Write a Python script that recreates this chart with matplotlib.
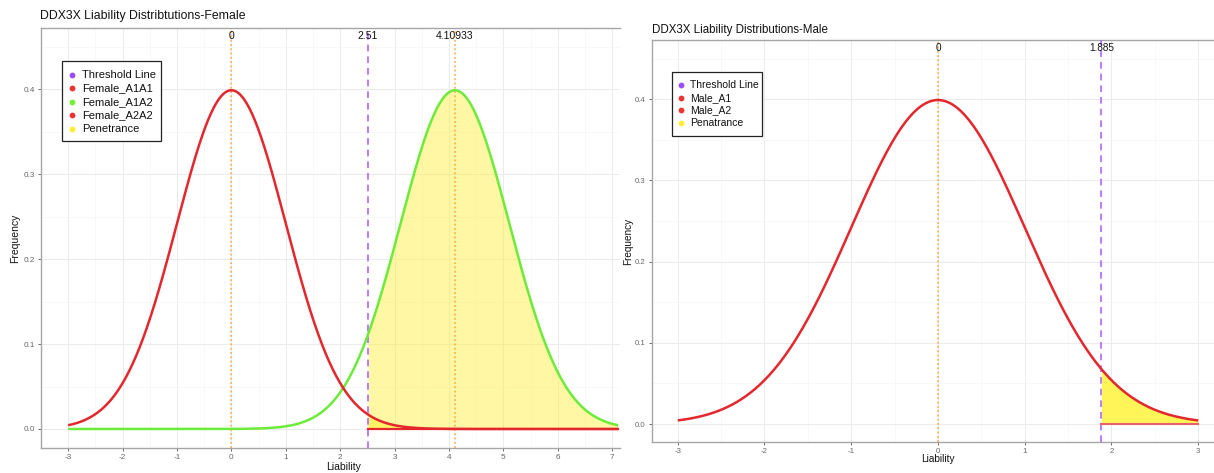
import numpy as np
import matplotlib
matplotlib.use("Agg")
import matplotlib.pyplot as plt
from matplotlib.patches import Rectangle
from matplotlib.ticker import MultipleLocator, FormatStrFormatter

plt.rcParams['font.family'] = ['Liberation Sans', 'DejaVu Sans']

# ---- Female liability model ----
female_means = [0.0, 4.10933]          # Female_A1A1, Female_A1A2
female_sd = 1.0
female_threshold = 2.51
female_x_span = (-3.0, 7.10933)
female_marks = [0.0, 2.51, 4.10933]
female_mark_labels = ["0", "2.51", "4.10933"]
female_legend = ["Threshold Line", "Female_A1A1", "Female_A1A2", "Female_A2A2", "Penetrance"]

# ---- Male liability model ----
male_mean = 0.0                          # Male_A1
male_sd = 1.0
male_threshold = 1.885
male_x_span = (-3.0, 3.0)
male_marks = [0.0, 1.885]
male_mark_labels = ["0", "1.885"]
male_legend = ["Threshold Line", "Male_A1", "Male_A2", "Penatrance"]

RED = "#E3272D"
GREEN = "#6DEB3A"
PURPLE_LINE = "#B266FF"
ORANGE = "#FFA940"
YELLOW = "#FFEE33"
LEGEND_COLORS_F = ["#9B4DFF", "#EE3333", "#77EE33", "#EE3333", "#FFEE33"]
LEGEND_COLORS_M = ["#9B4DFF", "#EE3333", "#EE3333", "#FFEE33"]

W, H = 1214, 473
fig = plt.figure(figsize=(W / 100, H / 100), dpi=100)


def density(x, mu, sd):
    return np.exp(-0.5 * ((x - mu) / sd) ** 2) / (sd * np.sqrt(2 * np.pi))


def add_axes_px(left, top, right, bottom):
    return fig.add_axes([left / W, 1 - bottom / H, (right - left) / W, (bottom - top) / H])


def style_axes(ax, tick_size):
    ax.set_facecolor("white")
    ax.xaxis.set_major_locator(MultipleLocator(1))
    ax.xaxis.set_minor_locator(MultipleLocator(0.5))
    ax.yaxis.set_major_locator(MultipleLocator(0.1))
    ax.yaxis.set_minor_locator(MultipleLocator(0.05))
    ax.grid(which="major", color="#EBEBEB", lw=0.7, zorder=0)
    ax.grid(which="minor", color="#F5F5F5", lw=0.5, zorder=0)
    ax.set_axisbelow(True)
    for s in ["left", "bottom", "top"]:
        ax.spines[s].set_color("#A6A6A6")
        ax.spines[s].set_linewidth(1.0)
    ax.spines["right"].set_visible(False)
    ax.tick_params(which="major", length=2.5, width=0.6, color="#555555",
                   labelsize=tick_size, labelcolor="#666666", pad=1.8)
    ax.tick_params(which="minor", length=0)
    ax.yaxis.set_major_formatter(FormatStrFormatter("%.1f"))
    ax.xaxis.set_major_formatter(FormatStrFormatter("%d"))


def draw_legend(box, dot_x, text_x, rows, labels, colors, size):
    x0, y0, x1, y1 = box
    fig.patches.append(Rectangle((x0 / W, 1 - y1 / H), (x1 - x0) / W, (y1 - y0) / H,
                                 transform=fig.transFigure, facecolor="white",
                                 edgecolor="#222222", lw=0.9, zorder=5))
    for y, lab, c in zip(rows, labels, colors):
        fig.add_artist(plt.Line2D([dot_x / W], [1 - y / H], marker="o", ms=4.2,
                                  color=c, mec="none", ls="none",
                                  transform=fig.transFigure, zorder=6))
        fig.text(text_x / W, 1 - y / H, lab, fontsize=size, color="#111111",
                 va="center", ha="left", zorder=6)


# ================= Female panel =================
axF = add_axes_px(40.7, 27.8, 620, 448.1)
style_axes(axF, 5.9)
xF = np.linspace(female_x_span[0], female_x_span[1], 800)
yF_a1a1 = density(xF, female_means[0], female_sd)
yF_a1a2 = density(xF, female_means[1], female_sd)
tailF = xF >= female_threshold
xF_tail = np.concatenate([[female_threshold], xF[tailF]])
axF.fill_between(xF_tail, 0, density(xF_tail, female_means[1], female_sd),
                 color=YELLOW, alpha=0.45, lw=0, zorder=2)
axF.fill_between(xF_tail, 0, density(xF_tail, female_means[0], female_sd),
                 color=YELLOW, alpha=0.55, lw=0, zorder=2)
axF.plot([female_threshold, female_x_span[1]], [0, 0], color=RED, lw=1.6, zorder=3)
for m in female_means:
    axF.axvline(m, color=ORANGE, lw=1.1, ls=(0, (1.2, 1.6)), zorder=2.5)
axF.axvline(female_threshold, color=PURPLE_LINE, lw=1.2, ls=(0, (4, 3)), zorder=2.6)
axF.plot(xF, yF_a1a2, color=GREEN, lw=1.8, zorder=4, solid_capstyle="butt")
axF.plot(xF, yF_a1a1, color=RED, lw=1.8, zorder=4.5, solid_capstyle="butt")
axF.set_xlim(-3.5055, -3.5055 + (620 - 40.7) / 54.4)
axF.set_ylim(-0.0225, 0.4725)
for xm, lab in zip(female_marks, female_mark_labels):
    axF.text(xm, 0.4628, lab, fontsize=7.5, color="#111111", ha="center", va="center",
             zorder=6)
axF.text((2.054 + 3.5055) / 10.6485, -0.045, "Liability", transform=axF.transAxes,
         fontsize=7.5, ha="center", va="center", color="#111111")
axF.text(-0.0445, 0.5, "Frequency", transform=axF.transAxes, rotation=90,
         fontsize=7.5, ha="center", va="center", color="#111111")
fig.text(40 / W, 1 - 16.5 / H, "DDX3X Liability Distribtutions-Female", fontsize=8.8,
         ha="left", va="center", color="#111111")
draw_legend((62, 61, 161, 141), 72, 82, [75, 88.4, 101.8, 115.2, 128.6],
            female_legend, LEGEND_COLORS_F, 8.0)

# ================= Male panel =================
axM = add_axes_px(651.7, 40.3, 651.7 + 6.6 * 86.75, 442.3)
style_axes(axM, 5.6)
xM = np.linspace(male_x_span[0], male_x_span[1], 600)
yM = density(xM, male_mean, male_sd)
tailM = xM >= male_threshold
xM_tail = np.concatenate([[male_threshold], xM[tailM]])
axM.fill_between(xM_tail, 0, density(xM_tail, male_mean, male_sd),
                 color="#FFF550", alpha=0.95, lw=0, zorder=2)
axM.plot([male_threshold, male_x_span[1]], [0, 0], color="#E8606A", lw=1.5, zorder=3)
axM.axvline(male_mean, color=ORANGE, lw=1.1, ls=(0, (1.2, 1.6)), zorder=2.5)
axM.axvline(male_threshold, color=PURPLE_LINE, lw=1.2, ls=(0, (4, 3)), zorder=2.6)
axM.plot(xM, yM, color=RED, lw=1.8, zorder=4, solid_capstyle="butt")
axM.set_xlim(-3.3, 3.3)
axM.set_ylim(-0.0225, 0.4725)
for xm, lab in zip(male_marks, male_mark_labels):
    axM.text(xm, 0.4628, lab, fontsize=7.2, color="#111111", ha="center", va="center",
             zorder=6)
axM.text(0.5, -0.0415, "Liability", transform=axM.transAxes,
         fontsize=7.2, ha="center", va="center", color="#111111")
axM.text(-0.0420, 0.5, "Frequency", transform=axM.transAxes, rotation=90,
         fontsize=7.2, ha="center", va="center", color="#111111")
fig.text(652 / W, 1 - 29.5 / H, "DDX3X Liability Distributions-Male", fontsize=8.3,
         ha="left", va="center", color="#111111")
draw_legend((671.7, 71.7, 762, 136), 680.7, 690, [85, 97.7, 110.3, 122.8],
            male_legend, LEGEND_COLORS_M, 7.5)

fig.savefig("out.png", dpi=100)
